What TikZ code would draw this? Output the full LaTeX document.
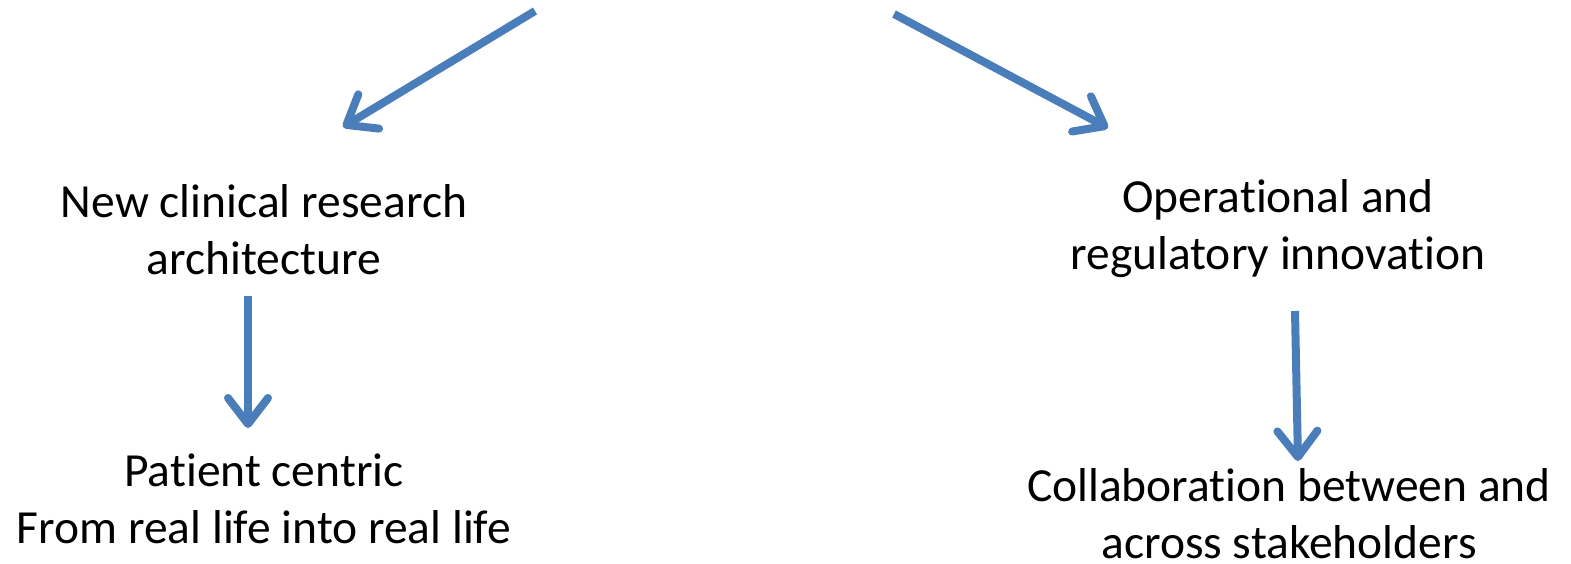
\documentclass[tikz,border=0pt]{standalone}
\usepackage{fontspec}
\setmainfont[Ligatures=NoCommon]{Carlito}
\usetikzlibrary{arrows.meta}
\definecolor{arrowblue}{HTML}{4A7EBB}
\tikzset{
  label/.style={align=center, font=\fontsize{47.5}{57}\selectfont, inner sep=0pt},
  flow/.style={draw=arrowblue, line width=8pt,
    -{Straight Barb[round, length=26pt, width=40pt, line width=8pt]}}
}
\begin{document}
\begin{tikzpicture}[x=1pt, y=-1pt]
  \useasboundingbox (0,0) rectangle (1571,564);
  % text blocks
  \node[label] (arch) at (264,230) {New clinical research\\architecture};
  \node[label] (oper) at (1278,229) {Operational and\\regulatory innovation};
  \node[label] (pat) at (264,499) {Patient centric\\From real life into real life};
  \node[label] (coll) at (1289,514) {Collaboration between and\\across stakeholders};
  % arrow end points
  \coordinate (s1) at (535,11);
  \coordinate (e1) at (343,127);
  \coordinate (s2) at (894,14);
  \coordinate (e2) at (1108,128);
  \coordinate (s3) at (248,296);
  \coordinate (e3) at (248,428);
  \coordinate (s4) at (1295,311);
  \coordinate (e4) at (1298,461);
  % connectors
  \draw[flow] (s1) -- (e1);
  \draw[flow] (s2) -- (e2);
  \draw[flow] (s3) -- (e3);
  \draw[flow] (s4) -- (e4);
\end{tikzpicture}
\end{document}
